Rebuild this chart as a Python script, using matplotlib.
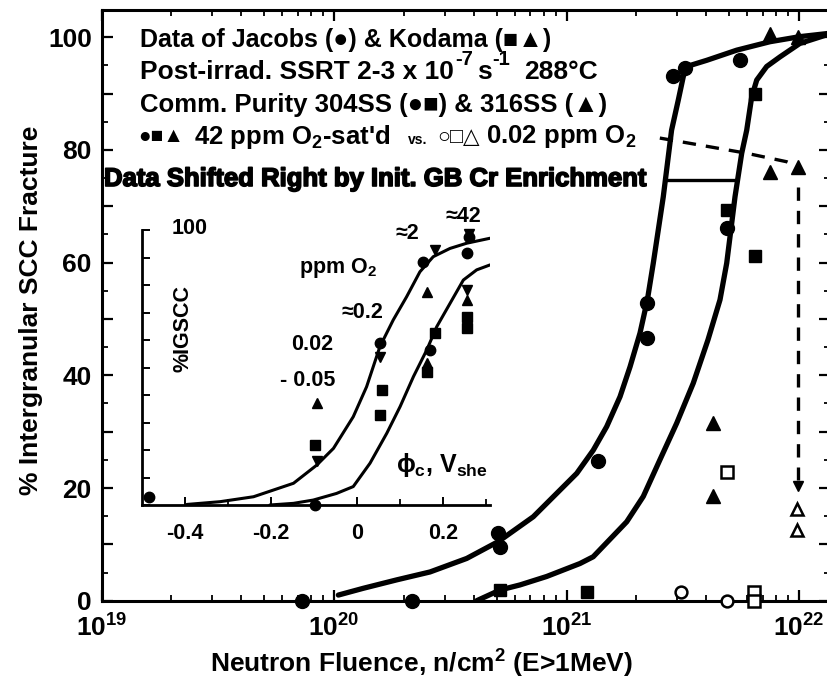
import numpy as np
import matplotlib
matplotlib.use('Agg')
import matplotlib.pyplot as plt
import matplotlib.patheffects as pe
from matplotlib.ticker import FixedLocator, FixedFormatter, NullFormatter

plt.rcParams['font.family'] = ['Liberation Sans', 'DejaVu Sans']
plt.rcParams['font.weight'] = 'bold'
plt.rcParams['mathtext.fontset'] = 'custom'
plt.rcParams['mathtext.rm'] = 'Liberation Sans:bold'
plt.rcParams['mathtext.it'] = 'Liberation Sans:bold'
plt.rcParams['mathtext.bf'] = 'Liberation Sans:bold'
plt.rcParams['mathtext.default'] = 'regular'

# ---------------- main chart data ----------------
# Jacobs 304SS, 42 ppm O2 (filled circles)
jac_flu = [7.26e19, 2.16e20, 5.09e20, 5.18e20, 1.36e21, 2.21e21, 2.21e21, 2.88e21, 3.24e21, 5.57e21, 4.89e21]
jac_igscc = [0, 0, 12.0, 9.6, 24.8, 52.8, 46.6, 93.1, 94.5, 96.0, 66.1]
# Kodama 304SS, 42 ppm O2 (filled squares)
kod_sq_flu = [5.18e20, 1.22e21, 4.89e21, 6.47e21, 6.47e21]
kod_sq_igscc = [1.9, 1.6, 69.3, 61.1, 90.0]
# Kodama 316SS, 42 ppm O2 (filled triangles)
kod_tri_flu = [4.28e21, 4.28e21, 7.5e21, 9.93e21, 7.5e21, 9.93e21]
kod_tri_igscc = [31.5, 18.6, 76.1, 77.0, 100.5, 100.0]
# 0.02 ppm O2 (open symbols)
low_circ_flu = [3.12e21, 4.89e21]
low_circ_igscc = [1.6, 0]
low_sq_flu = [4.89e21, 6.38e21, 6.38e21]
low_sq_igscc = [22.8, 1.6, 0]
low_tri_flu = [9.77e21, 9.77e21]
low_tri_igscc = [16.3, 12.5]

# fitted curves
curve1_flu = [1.044e20, 1.336e20, 1.862e20, 2.588e20, 3.723e20, 5.093e20, 7.197e20, 9.68e20,
              1.107e21, 1.303e21, 1.489e21, 1.699e21, 1.876e21, 2.071e21, 2.228e21, 2.362e21,
              2.608e21, 2.831e21, 3.024e21, 3.179e21, 3.288e21, 4.011e21, 5.396e21, 7.503e21,
              1.009e22, 1.358e22]
curve1_igscc = [1.0, 2.2, 3.7, 5.1, 7.5, 10.5, 14.9, 20.2, 22.6, 26.7, 30.9, 36.2, 41.5, 47.5,
                53.4, 59.9, 71.7, 83.5, 88.8, 93.0, 94.8, 95.9, 97.7, 99.2, 100.1, 100.7]
curve2_flu = [4.11e20, 5.18e20, 6.31e20, 8.22e20, 1.143e21, 1.303e21, 1.815e21, 2.139e21,
              2.522e21, 2.978e21, 3.509e21, 4.06e21, 4.573e21, 4.887e21, 5.307e21, 5.67e21,
              5.958e21, 6.26e21, 6.58e21, 7.26e21, 8.28e21, 1.009e22, 1.358e22]
curve2_igscc = [0, 1.9, 2.8, 4.3, 6.6, 7.8, 14.0, 18.5, 25.0, 31.5, 38.6, 46.3, 53.4, 59.9, 71.7,
                79.4, 83.5, 89.4, 92.4, 94.8, 96.5, 98.9, 100.6]

shift_flu = [2.735e21, 5.41e21]
shift_igscc = [74.7, 74.7]
dash_flu = [2.52e21, 5.96e21, 8.85e21, 9.93e21]
dash_igscc = [82.1, 79.4, 77.9, 77.0]
arrow_flu = [9.93e21, 9.93e21]
arrow_igscc = [73.5, 21.5]

x_major = [1e19, 1e20, 1e21, 1e22]
x_labels = [r'$10^{19}$', r'$10^{20}$', r'$10^{21}$', r'$10^{22}$']
y_major = [0, 10, 20, 30, 40, 50, 60, 70, 80, 90, 100]
y_labels = ['0', '', '20', '', '40', '', '60', '', '80', '', '100']

# ---------------- inset data ----------------
in_circ_x = [-0.482, -0.097, 0.054, 0.155, 0.17, 0.26, 0.256]
in_circ_y = [3.0, 0, 58.8, 88.5, 56.4, 97.6, 91.5]
in_sq_x = [-0.097, 0.058, 0.054, 0.182, 0.163, 0.256, 0.256]
in_sq_y = [21.8, 41.8, 32.7, 62.4, 48.5, 68.5, 64.2]
in_up_x = [-0.093, 0.163, 0.163, 0.256]
in_up_y = [37.1, 77.6, 51.5, 74.5]
in_dn_x = [-0.093, 0.054, 0.182, 0.26, 0.256]
in_dn_y = [16.0, 53.9, 92.7, 98.5, 78.2]
inA_x = [-0.395, -0.318, -0.240, -0.147, -0.093, -0.054, -0.008, 0.023, 0.054, 0.085, 0.116,
         0.147, 0.178, 0.217, 0.256, 0.310]
inA_y = [0.2, 1.2, 3.0, 7.9, 14.5, 20.6, 32.1, 43.0, 57.6, 67.3, 75.7, 84.8, 90.3, 93.3, 95.2, 97.0]
inB_x = [-0.202, -0.147, -0.101, -0.047, -0.008, 0.031, 0.070, 0.101, 0.132, 0.163, 0.186,
         0.217, 0.248, 0.279, 0.310]
inB_y = [0, 0.6, 1.8, 4.2, 6.7, 15.2, 26.1, 35.8, 46.7, 56.4, 64.8, 73.3, 81.8, 85.5, 87.3]
in_x_major = [-0.4, -0.2, 0, 0.2]
in_x_labels = ['-0.4', '-0.2', '0', '0.2']
in_x_minor = [-0.3, -0.1, 0.1, 0.3]
in_y_ticks = [0, 10, 20, 30, 40, 50, 60, 70, 80, 90, 100]

W, H = 827, 685
fig = plt.figure(figsize=(W / 100, H / 100), dpi=100)


def fx(px):
    return px / W


def fy(py):
    return 1 - py / H


L, R, T, B = 101.5, 830, 10, 600.7
ax = fig.add_axes([fx(L), fy(B), (R - L) / W, (B - T) / H])
ax.set_xscale('log')
ax.set_xlim(1e19, 10 ** (19 + (R - L) / 232.5))
ax.set_ylim(0, (B - T) / 5.635)
for s in ax.spines.values():
    s.set_linewidth(2.2)

ax.xaxis.set_major_locator(FixedLocator(x_major))
ax.xaxis.set_major_formatter(FixedFormatter(x_labels))
ax.xaxis.set_minor_locator(FixedLocator([float(m) * 10.0 ** e for e in range(19, 23) for m in range(2, 10)]))
ax.xaxis.set_minor_formatter(NullFormatter())
ax.yaxis.set_major_locator(FixedLocator(y_major))
ax.yaxis.set_major_formatter(FixedFormatter(y_labels))
ax.yaxis.set_minor_locator(FixedLocator([v + 5 for v in y_major[:-1]]))
ax.tick_params(which='major', direction='in', length=8, width=1.6, top=True, right=True,
               labelsize=19, pad=7)
ax.tick_params(which='minor', direction='in', length=4, width=1.3, top=True, right=True)
ax.tick_params(axis='x', which='major', pad=10)

lkw = dict(color='black', solid_capstyle='round', solid_joinstyle='round')
ax.plot(curve1_flu, curve1_igscc, lw=3.8, zorder=3, **lkw)
ax.plot(curve2_flu, curve2_igscc, lw=3.8, zorder=3, **lkw)
ax.plot(shift_flu, shift_igscc, color='black', lw=2.4)
ax.plot(dash_flu, dash_igscc, color='black', lw=2.4, linestyle=(0, (4, 3)))
ax.plot(arrow_flu, arrow_igscc, color='black', lw=2.4, linestyle=(0, (4, 3)))
ax.plot([arrow_flu[1]], [arrow_igscc[1] - 1.2], marker='v', ms=7, color='black', ls='none')

mk = dict(ls='none', color='black', clip_on=False, zorder=4)
ax.plot(jac_flu, jac_igscc, marker='o', ms=10, **mk)
ax.plot(kod_sq_flu, kod_sq_igscc, marker='s', ms=8.5, **mk)
ax.plot(kod_tri_flu, kod_tri_igscc, marker='^', ms=9.5, **mk)
ax.plot(low_circ_flu, low_circ_igscc, marker='o', ms=8.5, mfc='white', mew=1.8, **mk)
ax.plot(low_sq_flu, low_sq_igscc, marker='s', ms=8, mfc='white', mew=1.8, **mk)
ax.plot(low_tri_flu, low_tri_igscc, marker='^', ms=8.5, mfc='white', mew=1.8, **mk)

fig.text(fx(31), fy(310), '% Intergranular SCC Fracture', rotation=90, ha='center', va='center',
         fontsize=19)
fig.text(fx(422), fy(664), 'Neutron Fluence, n/cm$^2$ (E>1MeV)', ha='center', va='center',
         fontsize=19)

fig.text(fx(140), fy(40), 'Data of Jacobs (●) & Kodama (■▲)', ha='left', va='center',
         fontsize=18)
# line 2 assembled from chained pieces to keep the large superscripts
big, sup = 19, 14.5
t1 = fig.text(fx(140), fy(72), 'Post-irrad. SSRT 2-3 x 10', ha='left', va='center', fontsize=big)
t2 = ax.annotate('-7', xy=(1, 0.62), xycoords=t1, xytext=(1, 0), textcoords='offset points',
                 ha='left', va='bottom', fontsize=sup, annotation_clip=False)
t3 = ax.annotate('s', xy=(1, 0.5), xycoords=(t2, t1), xytext=(3, 0), textcoords='offset points',
                 ha='left', va='center', fontsize=big, annotation_clip=False)
t4 = ax.annotate('-1', xy=(1, 0.5), xycoords=(t3, t2), xytext=(0, 0), textcoords='offset points',
                 ha='left', va='center', fontsize=sup, annotation_clip=False)
ax.annotate('288°C', xy=(1, 0.5), xycoords=(t4, t1), xytext=(10, 0), textcoords='offset points',
            ha='left', va='center', fontsize=big, annotation_clip=False)
fig.text(fx(140), fy(105), 'Comm. Purity 304SS (●■) & 316SS (▲)', ha='left', va='center',
         fontsize=18.5)
fig.text(fx(138), fy(137), '●■▲', ha='left', va='center', fontsize=15)
fig.text(fx(194), fy(137), '42 ppm O$_2$-sat\'d', ha='left', va='center', fontsize=18.5)
fig.text(fx(418), fy(140), 'vs.', ha='center', va='center', fontsize=10)
fig.text(fx(437), fy(137), '○□△', ha='left', va='center', fontsize=15.5)
fig.text(fx(636), fy(137), '0.02 ppm O$_2$', ha='right', va='center', fontsize=18.5)
fig.text(fx(104), fy(179), 'Data Shifted Right by Init. GB Cr Enrichment', ha='left',
         va='center', fontsize=18.5,
         path_effects=[pe.withStroke(linewidth=1.2, foreground='black')])

# ---------------- inset ----------------
iL, iR, iT, iB = 141.7, 490, 230, 505
ax2 = fig.add_axes([fx(iL), fy(iB), (iR - iL) / W, (iB - iT) / H], facecolor='none')
ax2.set_xlim(-0.5, -0.5 + (iR - iL) / 430)
ax2.set_ylim(0, 100)
ax2.spines['top'].set_visible(False)
ax2.spines['right'].set_visible(False)
for s in ['left', 'bottom']:
    ax2.spines[s].set_linewidth(2.0)
ax2.xaxis.set_major_locator(FixedLocator(in_x_major))
ax2.xaxis.set_major_formatter(FixedFormatter(in_x_labels))
ax2.xaxis.set_minor_locator(FixedLocator(in_x_minor))
ax2.yaxis.set_major_locator(FixedLocator(in_y_ticks))
ax2.yaxis.set_major_formatter(NullFormatter())
ax2.tick_params(which='major', direction='in', length=6, width=1.4, labelsize=15.5, pad=13)
ax2.tick_params(which='minor', direction='in', length=4, width=1.3)

ax2.plot(inA_x, inA_y, lw=2.2, **lkw)
ax2.plot(inB_x, inB_y, lw=2.2, **lkw)
mk2 = dict(ls='none', color='black', clip_on=False, zorder=4)
ax2.plot(in_circ_x, in_circ_y, marker='o', ms=7.5, **mk2)
ax2.plot(in_sq_x, in_sq_y, marker='s', ms=6.5, **mk2)
ax2.plot(in_up_x, in_up_y, marker='^', ms=7, **mk2)
ax2.plot(in_dn_x, in_dn_y, marker='v', ms=7, **mk2)

fs2 = 15.5
fig.text(fx(190), fy(229), '100', ha='center', va='center', fontsize=fs2)
fig.text(fx(183), fy(329), '%IGSCC', rotation=90, ha='center', va='center', fontsize=15.5)
fig.text(fx(338), fy(268), 'ppm O$_2$', ha='center', va='center', fontsize=fs2)
fig.text(fx(407), fy(233), '≈2', ha='center', va='center', fontsize=fs2)
fig.text(fx(463), fy(217), '≈42', ha='center', va='center', fontsize=fs2)
fig.text(fx(362), fy(312), '≈0.2', ha='center', va='center', fontsize=fs2)
fig.text(fx(312), fy(344), '0.02', ha='center', va='center', fontsize=fs2)
fig.text(fx(308), fy(380), '- 0.05', ha='center', va='center', fontsize=fs2)
fig.text(fx(442), fy(465), 'ϕ$_{c}$, V$_{she}$', ha='center', va='center', fontsize=18)

fig.savefig('out.png', dpi=100)
